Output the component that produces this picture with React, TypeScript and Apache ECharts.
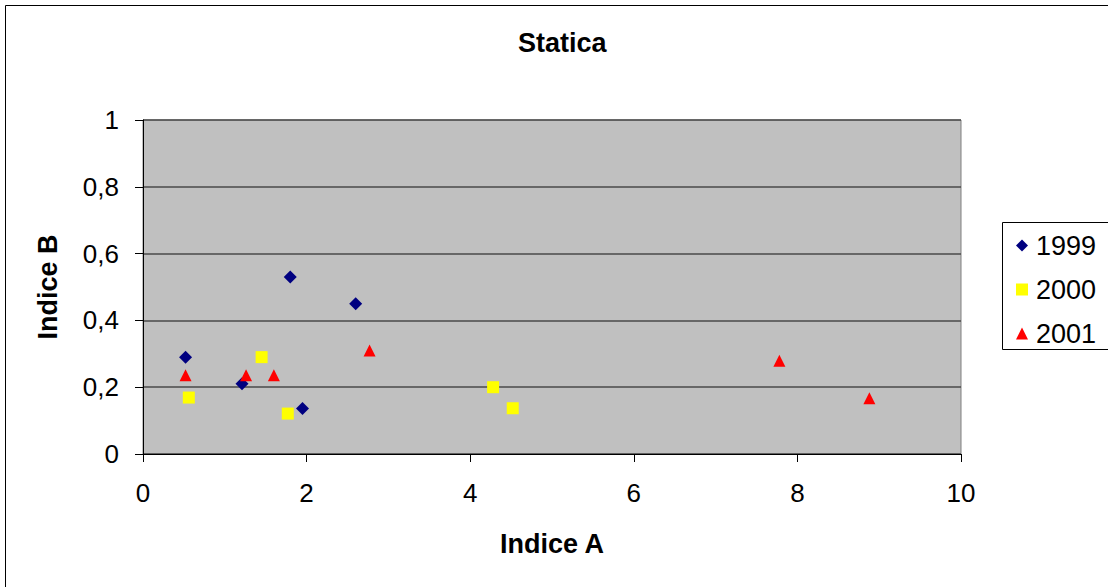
import React, { useEffect, useRef } from "react";
import * as echarts from "echarts";

const seriesNames = ["1999", "2000", "2001"];
const data1999: number[][] = [
  [0.52, 0.29],
  [1.21, 0.21],
  [1.8, 0.53],
  [2.6, 0.45],
  [1.95, 0.136],
];
const data2000: number[][] = [
  [0.56, 0.169],
  [1.45, 0.29],
  [1.77, 0.121],
  [4.28, 0.2],
  [4.52, 0.137],
];
const data2001: number[][] = [
  [0.52, 0.236],
  [1.26, 0.236],
  [1.6, 0.236],
  [2.77, 0.31],
  [7.78, 0.279],
  [8.88, 0.167],
];
const xTicks = { min: 0, max: 10, interval: 2 };
const yTicks = { min: 0, max: 1, interval: 0.2 };

export default function App() {
  const ref = useRef<HTMLDivElement>(null);
  useEffect(() => {
    if (!ref.current) return;
    const chart = echarts.init(ref.current, null, { renderer: "svg" });
    const font = "Liberation Sans, Arial, sans-serif";
    chart.setOption({
      animation: false,
      backgroundColor: "#ffffff",
      textStyle: { fontFamily: font },
      title: {
        text: "Statica",
        left: 518,
        top: 29,
        padding: 0,
        textStyle: { fontSize: 27, fontWeight: "bold", color: "#000", fontFamily: font },
      },
      graphic: [
        {
          type: "rect",
          shape: { x: 5.5, y: 5.5, width: 1110, height: 600 },
          style: { fill: "none", stroke: "#000", lineWidth: 1 },
          z: 100,
        },
        {
          type: "rect",
          shape: { x: 1002.5, y: 222.5, width: 120, height: 127 },
          style: { fill: "#fff", stroke: "#000", lineWidth: 1 },
          z: 0,
        },
      ],
      legend: {
        orient: "vertical",
        left: 1016,
        top: 232,
        padding: 0,
        itemGap: 17,
        itemWidth: 12,
        itemHeight: 12,
        data: seriesNames,
        textStyle: { fontSize: 27, color: "#000", fontFamily: font, padding: [0, 0, 0, 3] },
        z: 5,
      },
      grid: {
        left: 143,
        right: 147,
        top: 120,
        bottom: 133,
        show: true,
        backgroundColor: "#c0c0c0",
        borderColor: "#808080",
        borderWidth: 1,
      },
      xAxis: {
        type: "value",
        min: xTicks.min,
        max: xTicks.max,
        interval: xTicks.interval,
        name: "Indice A",
        nameLocation: "middle",
        nameGap: 76,
        nameTextStyle: { fontSize: 27, fontWeight: "bold", color: "#000", fontFamily: font },
        axisLine: { show: true, lineStyle: { color: "#000", width: 1 } },
        axisTick: { show: true, length: 8, lineStyle: { color: "#000" } },
        axisLabel: { fontSize: 26, color: "#000", margin: 26, fontFamily: font },
        splitLine: { show: false },
      },
      yAxis: {
        type: "value",
        min: yTicks.min,
        max: yTicks.max,
        interval: yTicks.interval,
        name: "Indice B",
        nameLocation: "middle",
        nameRotate: 90,
        nameGap: 82,
        nameTextStyle: { fontSize: 27, fontWeight: "bold", color: "#000", fontFamily: font },
        axisLine: { show: true, lineStyle: { color: "#000", width: 1 } },
        axisTick: { show: true, length: 8, lineStyle: { color: "#000" } },
        axisLabel: {
          fontSize: 26,
          color: "#000",
          margin: 24,
          fontFamily: font,
          formatter: (v: number) => String(Math.round(v * 10) / 10).replace(".", ","),
        },
        splitLine: { show: true, lineStyle: { color: "#4a4a4a", width: 1.6 } },
      },
      series: [
        {
          name: seriesNames[0],
          type: "scatter",
          symbol: "diamond",
          symbolSize: 13,
          itemStyle: { color: "#000080", opacity: 1 },
          data: data1999,
        },
        {
          name: seriesNames[1],
          type: "scatter",
          symbol: "rect",
          symbolSize: 12,
          itemStyle: { color: "#ffff00", opacity: 1 },
          data: data2000,
        },
        {
          name: seriesNames[2],
          type: "scatter",
          symbol: "triangle",
          symbolSize: 12,
          itemStyle: { color: "#ff0000", opacity: 1 },
          data: data2001,
        },
      ],
    });
    return () => chart.dispose();
  }, []);
  return (
    <div
      ref={ref}
      style={{ position: "absolute", left: 0, top: 0, width: 1108, height: 587 }}
    />
  );
}
